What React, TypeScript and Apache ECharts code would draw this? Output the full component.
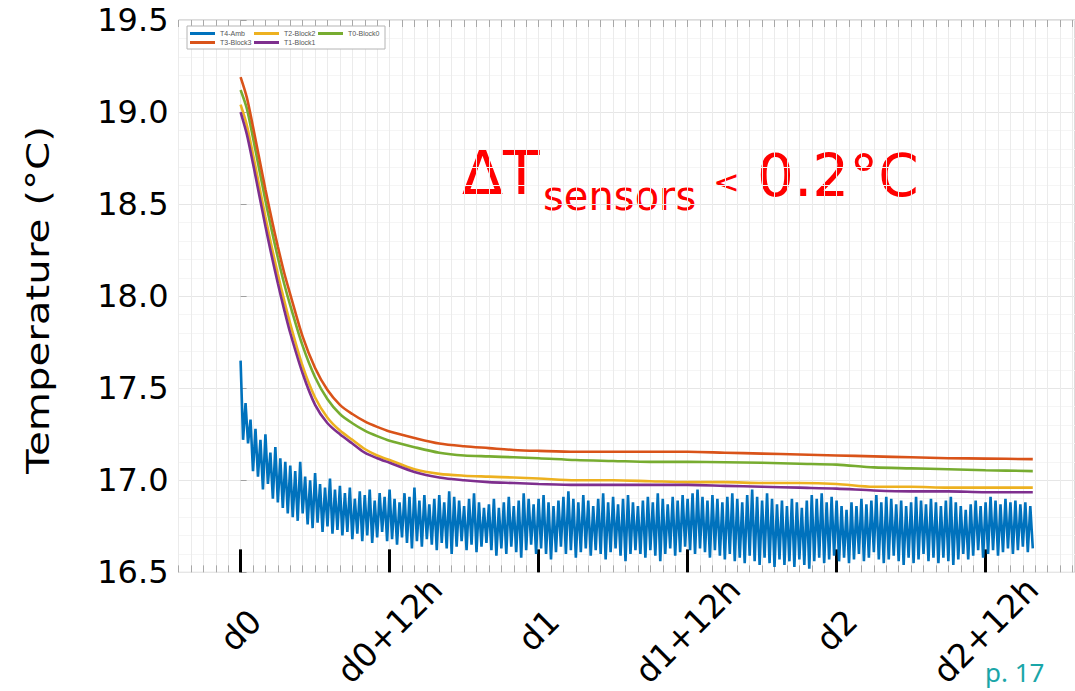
import React, { useEffect, useRef } from "react";
import * as echarts from "echarts";

// Time axis in hours after d0.
const hours = [
  0, 0.5, 1, 1.5, 2, 2.5, 3, 3.5, 4, 5, 6, 7, 8, 9, 10, 11, 12, 14, 16, 18,
  20, 22, 24, 27, 30, 33, 36, 39, 42, 45, 48, 51, 54, 57, 60, 63.8,
];

// Block sensors (°C)
const t3Block3 = [
  19.19, 19.08, 18.92, 18.75, 18.58, 18.42, 18.27, 18.13, 18.01, 17.78, 17.61,
  17.49, 17.41, 17.36, 17.32, 17.29, 17.265, 17.23, 17.2, 17.185, 17.175,
  17.165, 17.16, 17.155, 17.155, 17.155, 17.155, 17.15, 17.145, 17.14, 17.135,
  17.13, 17.125, 17.12, 17.118, 17.115,
];
const t0Block0 = [
  19.12, 19.02, 18.86, 18.69, 18.52, 18.36, 18.21, 18.07, 17.95, 17.73, 17.56,
  17.44, 17.36, 17.31, 17.27, 17.24, 17.215, 17.18, 17.15, 17.135, 17.13,
  17.125, 17.12, 17.11, 17.105, 17.1, 17.1, 17.098, 17.095, 17.09, 17.085,
  17.07, 17.065, 17.06, 17.055, 17.05,
];
const t2Block2 = [
  19.04, 18.93, 18.77, 18.6, 18.43, 18.27, 18.12, 17.98, 17.85, 17.62, 17.45,
  17.34, 17.27, 17.22, 17.17, 17.135, 17.11, 17.06, 17.035, 17.025, 17.02,
  17.015, 17.01, 17.0, 17.0, 16.995, 16.99, 16.99, 16.985, 16.985, 16.98,
  16.965, 16.965, 16.96, 16.96, 16.96,
];
const t1Block1 = [
  19.0, 18.88, 18.72, 18.55, 18.38, 18.22, 18.07, 17.93, 17.8, 17.58, 17.41,
  17.31, 17.25, 17.2, 17.15, 17.12, 17.095, 17.045, 17.015, 17.0, 16.99,
  16.985, 16.98, 16.975, 16.975, 16.975, 16.975, 16.97, 16.965, 16.96, 16.955,
  16.945, 16.94, 16.94, 16.935, 16.935,
];

// Ambient sensor: successive peaks and troughs, one pair every 0.4 h.
const ambPeriod = 0.4;
const ambHigh = [
  17.65, 17.42, 17.33, 17.28, 17.22, 17.25, 17.15, 17.18, 17.12, 17.1,
  17.08, 17.05, 17.1, 17.02, 17.0, 17.04, 16.98, 16.96, 17.01, 16.95,
  16.97, 16.93, 16.96, 16.9, 16.94, 16.92, 16.95, 16.89, 16.93, 16.91,
  16.95, 16.9, 16.88, 16.93, 16.91, 16.96, 16.89, 16.92, 16.87, 16.9,
  16.92, 16.88, 16.94, 16.91, 16.89, 16.86, 16.9, 16.93, 16.88, 16.85,
  16.87, 16.9, 16.85, 16.88, 16.91, 16.86, 16.89, 16.93, 16.9, 16.87,
  16.9, 16.92, 16.88, 16.86, 16.89, 16.91, 16.94, 16.9, 16.88, 16.92,
  16.89, 16.86, 16.9, 16.93, 16.88, 16.91, 16.87, 16.9, 16.92, 16.88,
  16.86, 16.89, 16.91, 16.88, 16.93, 16.9, 16.87, 16.91, 16.89, 16.92,
  16.9, 16.93, 16.95, 16.91, 16.89, 16.92, 16.9, 16.88, 16.91, 16.93,
  16.9, 16.88, 16.92, 16.95, 16.91, 16.89, 16.93, 16.9, 16.87, 16.89,
  16.86, 16.9, 16.88, 16.85, 16.89, 16.92, 16.9, 16.93, 16.88, 16.91,
  16.89, 16.86, 16.84, 16.88, 16.86, 16.9, 16.87, 16.89, 16.92, 16.88,
  16.91, 16.9, 16.87, 16.89, 16.86, 16.88, 16.91, 16.89, 16.87, 16.9,
  16.88, 16.86, 16.89, 16.91, 16.88, 16.86, 16.84, 16.87, 16.89, 16.86,
  16.88, 16.91, 16.89, 16.87, 16.9, 16.88, 16.89, 16.87, 16.88, 16.86,
];
const ambLow = [
  17.22, 17.2, 17.05, 17.02, 16.95, 16.98, 16.9, 16.88, 16.85, 16.82,
  16.8, 16.78, 16.82, 16.76, 16.74, 16.77, 16.72, 16.75, 16.71, 16.73,
  16.7, 16.72, 16.68, 16.71, 16.67, 16.7, 16.66, 16.69, 16.72, 16.67,
  16.68, 16.65, 16.69, 16.66, 16.63, 16.67, 16.64, 16.68, 16.65, 16.62,
  16.66, 16.63, 16.6, 16.64, 16.67, 16.62, 16.65, 16.61, 16.64, 16.66,
  16.62, 16.59, 16.63, 16.6, 16.64, 16.61, 16.58, 16.62, 16.65, 16.6,
  16.63, 16.6, 16.57, 16.61, 16.64, 16.6, 16.62, 16.58, 16.61, 16.63,
  16.59, 16.62, 16.6, 16.57, 16.61, 16.63, 16.59, 16.56, 16.6, 16.62,
  16.6, 16.58, 16.62, 16.59, 16.56, 16.6, 16.63, 16.59, 16.61, 16.64,
  16.62, 16.6, 16.63, 16.61, 16.58, 16.62, 16.59, 16.57, 16.6, 16.56,
  16.58, 16.55, 16.59, 16.56, 16.54, 16.58, 16.55, 16.53, 16.57, 16.54,
  16.56, 16.53, 16.57, 16.54, 16.52, 16.56, 16.58, 16.55, 16.57, 16.59,
  16.56, 16.58, 16.55, 16.57, 16.6, 16.56, 16.58, 16.61, 16.57, 16.55,
  16.57, 16.59, 16.56, 16.54, 16.58, 16.55, 16.57, 16.6, 16.56, 16.58,
  16.55, 16.58, 16.56, 16.54, 16.57, 16.6, 16.57, 16.59, 16.62, 16.58,
  16.6, 16.62, 16.59, 16.61, 16.63, 16.6, 16.62, 16.64, 16.61, 16.63,
];

const dayTicks = [0, 12, 24, 36, 48, 60];
const dayLabels = ["d0", "d0+12h", "d1", "d1+12h", "d2", "d2+12h"];
const seriesNames = ["T4-Amb", "T2-Block2", "T0-Block0", "T3-Block3", "T1-Block1"];

const COLORS: Record<string, string> = {
  "T4-Amb": "#0072BD",
  "T3-Block3": "#D95319",
  "T2-Block2": "#EDB120",
  "T0-Block0": "#77AC30",
  "T1-Block1": "#7E2F8E",
};

const toPairs = (ts: number[], vs: number[]) => ts.map((t, i) => [t, vs[i]]);

const ambData: number[][] = [];
ambHigh.forEach((h, i) => {
  ambData.push([i * ambPeriod, h]);
  ambData.push([i * ambPeriod + ambPeriod / 2, ambLow[i]]);
});

const X_MIN = -5;
const X_MAX = 67.2;

function blockSeries(name: string, values: number[]) {
  return {
    name,
    type: "line",
    xAxisIndex: 0,
    data: toPairs(hours, values),
    showSymbol: false,
    symbol: "none",
    smooth: 0.3,
    lineStyle: { width: 2.6, color: COLORS[name] },
    itemStyle: { color: COLORS[name] },
    z: 3,
  };
}

const option: any = {
  animation: false,
  backgroundColor: "#ffffff",
  grid: {
    left: 178.5,
    right: -6,
    top: 20,
    bottom: 116,
    show: true,
    borderColor: "#b8b8b8",
    borderWidth: 1,
    backgroundColor: "transparent",
  },
  legend: {
    data: seriesNames,
    left: 187,
    top: 26,
    orient: "horizontal",
    width: 192,
    itemWidth: 25,
    itemHeight: 3,
    itemGap: 0,
    icon: "rect",
    padding: [3, 3, 2, 3],
    backgroundColor: "#ffffff",
    borderColor: "#b4b4b4",
    borderWidth: 1,
    borderRadius: 0,
    textStyle: {
      fontSize: 7,
      lineHeight: 9,
      color: "#555",
      width: 34,
      fontFamily: "Liberation Sans",
    },
  },
  xAxis: [
    {
      type: "value",
      min: X_MIN,
      max: X_MAX,
      interval: 1,
      position: "bottom",
      axisLine: { show: false },
      axisTick: { show: true, inside: true, length: 7, lineStyle: { color: "#a8a8a8" } },
      axisLabel: { show: false },
      splitLine: { show: true, lineStyle: { color: "#ebebeb", width: 1 } },
    },
    {
      type: "value",
      min: X_MIN,
      max: X_MAX,
      interval: 1,
      position: "top",
      axisLine: { show: false },
      axisTick: { show: true, inside: true, length: 7, lineStyle: { color: "#a8a8a8" } },
      axisLabel: { show: false },
      splitLine: { show: false },
    },
    {
      type: "value",
      min: X_MIN,
      max: X_MAX,
      position: "bottom",
      axisLine: { show: false },
      axisTick: {
        show: true,
        inside: true,
        length: 23,
        customValues: dayTicks,
        lineStyle: { color: "#000000", width: 3 },
      },
      axisLabel: {
        customValues: dayTicks,
        formatter: (v: number) => dayLabels[dayTicks.indexOf(v)] ?? "",
        rotate: 45,
        align: "center",
        verticalAlign: "middle",
        margin: 58,
        fontSize: 33,
        color: "#000000",
        fontFamily: "DejaVu Sans",
      },
      splitLine: { show: false },
    },
  ],
  yAxis: {
    type: "value",
    min: 16.5,
    max: 19.5,
    interval: 0.5,
    axisLine: { show: false },
    axisTick: { show: true, inside: true, length: 6, lineStyle: { color: "#a0a0a0" } },
    axisLabel: {
      formatter: (v: number) => v.toFixed(1),
      fontSize: 32,
      color: "#000000",
      margin: 10,
      fontFamily: "DejaVu Sans",
    },
    splitLine: { show: true, lineStyle: { color: "#e6e6e6" } },
    minorSplitLine: { show: true, lineStyle: { color: "#f5f5f5" } },
  },
  series: [
    {
      name: "T4-Amb",
      type: "line",
      xAxisIndex: 0,
      data: ambData,
      showSymbol: false,
      symbol: "none",
      lineStyle: { width: 2.6, color: COLORS["T4-Amb"], join: "miter" },
      itemStyle: { color: COLORS["T4-Amb"] },
      z: 2,
    },
    blockSeries("T2-Block2", t2Block2),
    blockSeries("T1-Block1", t1Block1),
    blockSeries("T0-Block0", t0Block0),
    blockSeries("T3-Block3", t3Block3),
  ],
  graphic: [
    {
      type: "text",
      x: 38,
      y: 300,
      rotation: Math.PI / 2,
      scaleX: 1.26,
      style: {
        text: "Temperature (°C)",
        fontSize: 32,
        fontFamily: "DejaVu Sans",
        fill: "#000000",
        align: "center",
        verticalAlign: "middle",
      },
    },
    {
      type: "text",
      x: 462,
      y: 173,
      style: { text: "ΔT", fontSize: 60, fontFamily: "DejaVu Sans", fill: "#ff0000", verticalAlign: "middle" },
    },
    {
      type: "text",
      x: 543,
      y: 196,
      style: { text: "sensors", fontSize: 40, fontFamily: "DejaVu Sans", fill: "#ff0000", verticalAlign: "middle" },
    },
    {
      type: "text",
      x: 713,
      y: 182,
      style: { text: "<", fontSize: 32, fontFamily: "DejaVu Sans", fill: "#ff0000", verticalAlign: "middle" },
    },
    {
      type: "text",
      x: 757,
      y: 176,
      style: { text: "0.2°C", fontSize: 58, fontFamily: "DejaVu Sans", fill: "#ff0000", verticalAlign: "middle" },
    },
    {
      type: "text",
      x: 985,
      y: 672,
      style: { text: "p. 17", fontSize: 26, fontFamily: "Noto Sans", fill: "#1aa6a8", verticalAlign: "middle" },
    },
  ],
};

export default function App() {
  const ref = useRef<HTMLDivElement>(null);
  useEffect(() => {
    if (!ref.current) return;
    const chart = echarts.init(ref.current, null, { renderer: "svg" });
    chart.setOption(option);
    return () => chart.dispose();
  }, []);
  return (
    <div
      ref={ref}
      style={{ position: "fixed", left: 0, top: 0, width: 1075, height: 691, background: "#fff" }}
    />
  );
}
